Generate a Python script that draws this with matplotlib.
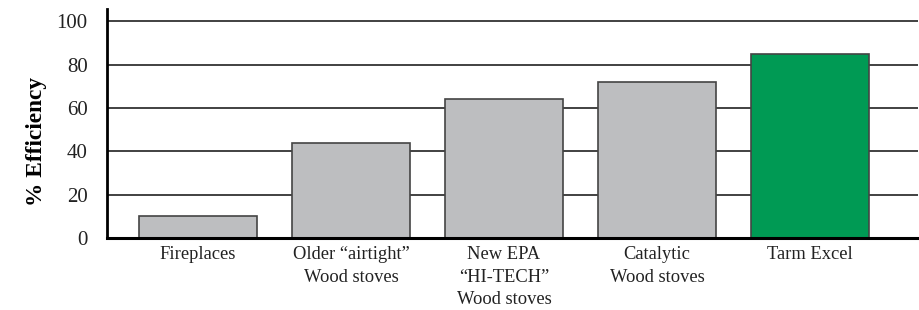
import numpy as np
import matplotlib.pyplot as plt

# data
categories = ["Fireplaces", "Older \u201cairtight\u201d\nWood stoves",
              "New EPA\n\u201cHI-TECH\u201d\nWood stoves", "Catalytic\nWood stoves",
              "Tarm Excel"]
efficiency = [10, 44, 64, 72, 85]
bar_colors = ["#bdbec0", "#bdbec0", "#bdbec0", "#bdbec0", "#009a54"]
yticks = [0, 20, 40, 60, 80, 100]

plt.rcParams['font.family'] = ['Liberation Serif', 'DejaVu Serif']

fig = plt.figure(figsize=(9.19, 3.10), dpi=100)
ax = fig.add_axes([107/919, 72/310, 811/919, 228.5/310])

x = np.arange(len(categories))
ax.bar(x, efficiency, width=0.771, color=bar_colors, edgecolor="#444444",
       linewidth=1.2, zorder=3)

for t in yticks[1:]:
    ax.axhline(t, color="#333333", linewidth=1.3, zorder=1)

ax.set_xlim(-0.595, 4.706)
ax.set_ylim(0, 105.5)
ax.set_yticks(yticks)
ax.set_xticks(x)
ax.set_xticklabels(categories, fontsize=13.3, linespacing=1.4, color="#222222")
ax.tick_params(axis='y', length=0, pad=14, labelsize=15, labelcolor="#222222")
ax.tick_params(axis='x', length=0, pad=6)

for s in ["top", "right"]:
    ax.spines[s].set_visible(False)
ax.spines["left"].set_linewidth(2)
ax.spines["bottom"].set_linewidth(2.2)
ax.spines["left"].set_zorder(4)
ax.spines["bottom"].set_zorder(4)

ax.set_ylabel("% Efficiency", fontsize=16.8, fontweight="bold")
ax.yaxis.set_label_coords(-0.074, 0.424)

plt.savefig("out.png")
